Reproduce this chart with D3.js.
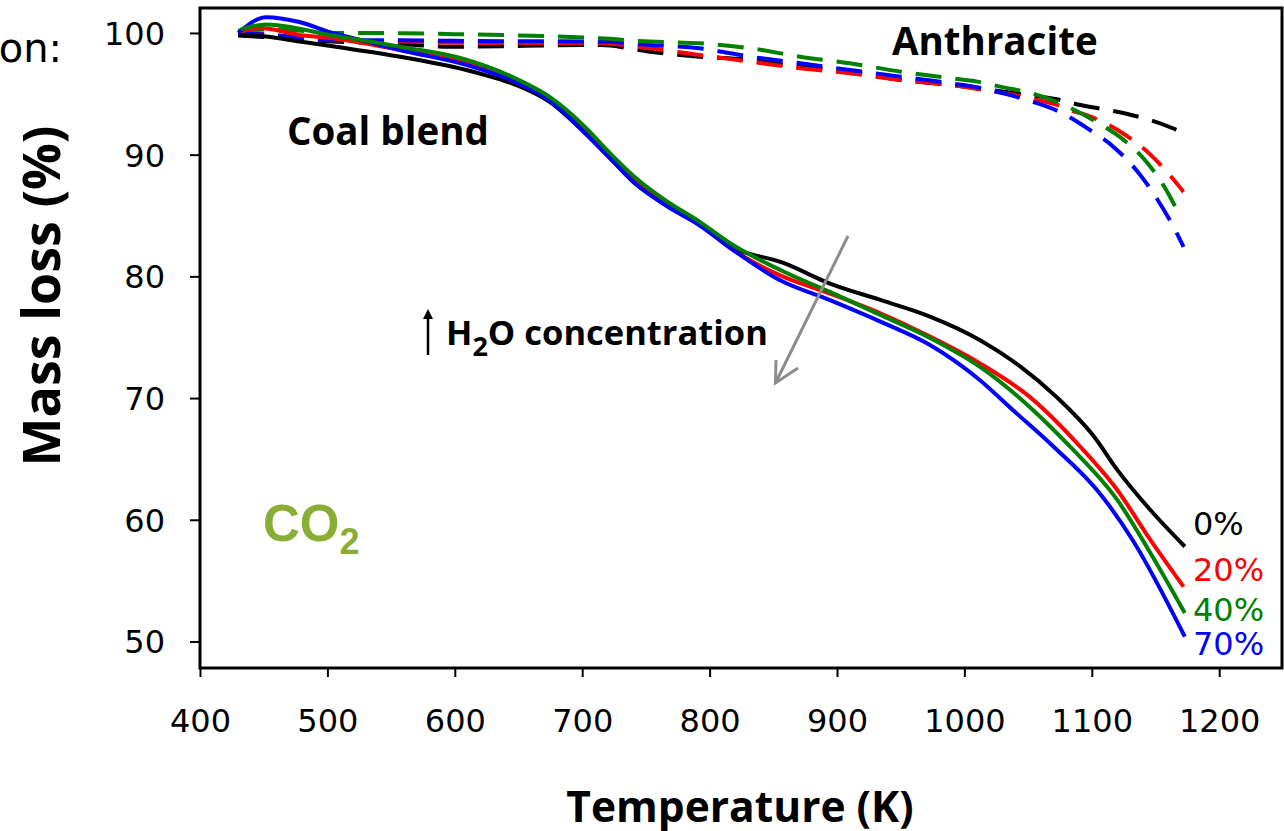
<!DOCTYPE html>
<html>
<head>
<meta charset="utf-8">
<script src="https://cdn.jsdelivr.net/npm/d3@7"></script>
<style>
  html, body { margin: 0; padding: 0; background: #fff; }
  svg { display: block; }
</style>
</head>
<body>
<svg id="chart" width="1284" height="831"></svg>
<script>
// ---------------- DATA ----------------
const xTicks = [400, 500, 600, 700, 800, 900, 1000, 1100, 1200];
const yTicks = [50, 60, 70, 80, 90, 100];
const seriesLabels = ["0%", "20%", "40%", "70%"];
const seriesColors = ["#000000", "#ff0000", "#008000", "#0000ff"];

// Coal blend (solid) : [Temperature K, mass %]
const coal0 = [[430,99.84],[452,99.7],[478,99.3],[504,98.9],[557,98.05],[609,96.96],[635,96.2],[649,95.7],[675,94.3],[701,91.9],[722,89.7],[743,87.5],[766,85.9],[792,84.3],[818,82.4],[858,81.1],[894,79.43],[934,78.06],[973,76.69],[1012,74.77],[1044,72.58],[1072,70.12],[1102,66.8],[1120,64.1],[1146,60.8],[1173,57.8]];
const coal20 = [[432,100.1],[447,100.4],[478,99.84],[504,99.56],[557,98.6],[609,97.5],[649,95.9],[675,94.5],[701,92.1],[722,89.9],[743,87.7],[766,86.0],[792,84.3],[818,82.2],[855,80.1],[894,78.61],[934,76.97],[973,75.05],[1012,72.86],[1051,70.12],[1091,66.0],[1120,62.45],[1146,58.34],[1172,54.5]];
const coal40 = [[432,100.3],[452,100.7],[504,99.8],[557,98.87],[609,97.8],[649,96.2],[675,94.7],[701,92.4],[722,90.1],[743,88.0],[766,86.2],[792,84.5],[818,82.6],[858,80.4],[894,78.74],[934,76.83],[973,74.94],[1012,72.58],[1051,69.29],[1083,66.0],[1120,61.63],[1146,57.27],[1173,52.34]];
const coal70 = [[430,100.0],[452,101.3],[478,100.9],[504,100.0],[531,99.3],[557,98.6],[609,97.37],[649,95.9],[675,94.4],[701,91.9],[722,89.7],[743,87.5],[766,85.8],[792,84.2],[818,82.2],[855,79.7],[894,78.06],[934,76.28],[973,74.36],[1012,71.49],[1038,69.02],[1070,66.0],[1106,62.2],[1132,58.34],[1173,50.4]];

// Anthracite (dashed)
const anth0 = [[430,99.8],[460,99.6],[504,99.3],[557,99.1],[596,98.87],[714,99.01],[753,98.46],[792,98.05],[832,97.78],[871,97.23],[910,96.82],[950,96.14],[989,95.73],[1020,95.32],[1059,94.77],[1075,94.49],[1090,94.1],[1110,93.72],[1131,93.26],[1147,92.8],[1163,92.19],[1172,91.78]];
const anth20 = [[430,100.1],[460,99.8],[504,99.4],[557,99.3],[600,99.2],[714,99.15],[753,98.74],[792,98.19],[832,97.64],[871,97.1],[910,96.69],[950,96.14],[989,95.73],[1028,95.1],[1046,94.77],[1057,94.5],[1073,94.08],[1083,93.67],[1099,93.12],[1124,91.78],[1146,90.0],[1163,88.1],[1172,86.94]];
const anth40 = [[430,100.2],[460,100.3],[504,100.0],[557,99.98],[600,99.9],[650,99.8],[714,99.56],[753,99.29],[792,99.15],[832,98.74],[871,98.05],[910,97.51],[950,96.82],[989,96.28],[1010,96.0],[1028,95.59],[1057,94.91],[1081,93.95],[1105,92.6],[1124,91.3],[1143,89.4],[1159,87.0],[1168,85.21]];
const anth70 = [[430,100.0],[460,99.8],[504,99.4],[557,99.4],[600,99.35],[714,99.29],[753,99.01],[792,98.74],[832,98.05],[871,97.51],[910,96.96],[950,96.41],[989,95.87],[1020,95.32],[1049,94.49],[1075,93.5],[1096,92.2],[1118,90.55],[1136,88.6],[1151,86.4],[1165,83.9],[1172,82.42]];

const coalSeries = [coal0, coal20, coal70, coal40];
const coalColors = ["#000000", "#ff0000", "#0000ff", "#008000"];
const anthSeries = [anth0, anth20, anth70, anth40];
const anthColors = ["#000000", "#ff0000", "#0000ff", "#008000"];

// ---------------- CHART ----------------
const svg = d3.select("#chart");
const L = 200, R = 1282, T = 8, B = 668;

const x = d3.scaleLinear().domain([400, 1249.3]).range([L, R]);
const y = d3.scaleLinear().domain([47.82, 102.05]).range([B, T]);

const tickFont = "'DejaVu Sans', Verdana, sans-serif";
const boldFont = "'Open Sans', 'Noto Sans', sans-serif";

const line = d3.line().x(d => x(d[0])).y(d => y(d[1])).curve(d3.curveMonotoneX);

// frame
svg.append("rect").attr("x", L).attr("y", T).attr("width", R - L).attr("height", B - T)
  .attr("fill", "none").attr("stroke", "#000").attr("stroke-width", 3);

// axes
const xAxis = svg.append("g").attr("transform", `translate(0,${B})`)
  .call(d3.axisBottom(x).tickValues(xTicks).tickSize(9).tickPadding(32).tickFormat(d3.format("d")));
const yAxis = svg.append("g").attr("transform", `translate(${L},0)`)
  .call(d3.axisLeft(y).tickValues(yTicks).tickSize(10).tickPadding(25).tickFormat(d3.format("d")));
[xAxis, yAxis].forEach(g => {
  g.select(".domain").remove();
  g.selectAll(".tick line").attr("stroke", "#000").attr("stroke-width", 2);
  g.selectAll(".tick text").attr("fill", "#000").style("font-family", tickFont).style("font-size", "32px");
});
yAxis.selectAll(".tick text").attr("dy", "0.36em");

// dashed anthracite
anthSeries.forEach((s, i) => {
  svg.append("path").datum(s).attr("d", line).attr("fill", "none")
    .attr("stroke", anthColors[i]).attr("stroke-width", 4)
    .attr("stroke-dasharray", "26,14");
});
// solid coal blend
coalSeries.forEach((s, i) => {
  svg.append("path").datum(s).attr("d", line).attr("fill", "none")
    .attr("stroke", coalColors[i]).attr("stroke-width", 4).attr("stroke-linejoin", "round");
});

// series labels at the right
const labelY = [535, 581, 621, 655];
seriesLabels.forEach((t, i) => {
  svg.append("text").attr("x", 1193).attr("y", labelY[i]).text(t)
    .attr("fill", seriesColors[i]).style("font-family", tickFont).style("font-size", "32px");
});

// annotations
svg.append("text").attr("x", 287).attr("y", 145).text("Coal blend")
  .style("font-family", boldFont).style("font-weight", "bold").style("font-size", "38.5px");
svg.append("text").attr("x", 892).attr("y", 55).text("Anthracite")
  .style("font-family", boldFont).style("font-weight", "bold").style("font-size", "38.5px");

const h2o = svg.append("text").attr("x", 446).attr("y", 345)
  .style("font-family", boldFont).style("font-weight", "bold").style("font-size", "34.5px");
h2o.append("tspan").text("H");
h2o.append("tspan").text("2").attr("dy", 11).style("font-size", "27px");
h2o.append("tspan").text("O concentration").attr("dy", -11);

// small up arrow
const defs = svg.append("defs");
defs.append("marker").attr("id", "upArrow").attr("viewBox", "0 0 10 10").attr("refX", 5).attr("refY", 5)
  .attr("markerWidth", 4).attr("markerHeight", 4).attr("orient", "auto")
  .append("path").attr("d", "M0,0 L10,5 L0,10 z").attr("fill", "#000");
svg.append("line").attr("x1", 428).attr("y1", 355).attr("x2", 428).attr("y2", 314)
  .attr("stroke", "#000").attr("stroke-width", 2.5).attr("marker-end", "url(#upArrow)");

// gray arrow
svg.append("line").attr("x1", 848).attr("y1", 236).attr("x2", 775.5).attr("y2", 383)
  .attr("stroke", "#8c8c8c").attr("stroke-width", 3);
svg.append("polyline").attr("points", "776,360 775.5,383 798,368")
  .attr("fill", "none").attr("stroke", "#8c8c8c").attr("stroke-width", 3);

// CO2
const co2 = svg.append("text").attr("x", 263).attr("y", 541).attr("fill", "#8aad36")
  .style("font-family", "'Liberation Sans', Arial, sans-serif").style("font-weight", "bold").style("font-size", "51px");
co2.append("tspan").text("CO");
co2.append("tspan").text("2").attr("dy", 13).style("font-size", "36px");

// axis titles
svg.append("text").attr("transform", "translate(60,296) rotate(-90)").attr("text-anchor", "middle")
  .text("Mass loss (%)").style("font-family", boldFont).style("font-weight", "bold").style("font-size", "52px");
svg.append("text").attr("x", 740).attr("y", 822).attr("text-anchor", "middle")
  .text("Temperature (K)").style("font-family", boldFont).style("font-weight", "bold").style("font-size", "42.5px");

// fragment of neighbouring text at top-left
svg.append("text").attr("x", 62).attr("y", 62).attr("text-anchor", "end").text("on:")
  .style("font-family", tickFont).style("font-size", "40px");
</script>
</body>
</html>
